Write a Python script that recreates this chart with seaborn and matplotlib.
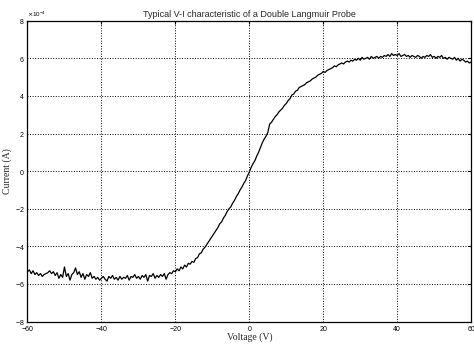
import numpy as np
import pandas as pd
import matplotlib
matplotlib.use("Agg")
import matplotlib.pyplot as plt
import seaborn as sns
from matplotlib.ticker import ScalarFormatter

# Voltage sweep (V), step 0.5 V
voltage = [v / 2 for v in range(-120, 121)]

# Current, in units of 1e-4 A
current_e4 = [
    -5.35, -5.25, -5.45, -5.30, -5.50, -5.40, -5.55, -5.45, -5.60, -5.50,
    -5.45, -5.40, -5.30, -5.45, -5.35, -5.55, -5.40, -5.70, -5.50, -5.65,
    -5.10, -5.60, -5.45, -5.80, -5.50, -5.40, -5.15, -5.50, -5.35, -5.65,
    -5.45, -5.75, -5.50, -5.60, -5.40, -5.70, -5.60, -5.75, -5.65, -5.80,
    -5.70, -5.60, -5.75, -5.85, -5.60, -5.70, -5.55, -5.75, -5.65, -5.80,
    -5.60, -5.75, -5.65, -5.70, -5.55, -5.80, -5.60, -5.65, -5.50, -5.70,
    -5.60, -5.75, -5.55, -5.65, -5.50, -5.85, -5.55, -5.60, -5.45, -5.70,
    -5.55, -5.65, -5.50, -5.60, -5.45, -5.75, -5.50, -5.40, -5.45, -5.30,
    -5.35, -5.20, -5.30, -5.10, -5.20, -5.00, -5.10, -4.90, -4.95, -4.80,
    -4.85, -4.65, -4.60, -4.40, -4.35, -4.15, -4.05, -3.90, -3.75, -3.60,
    -3.45, -3.30, -3.15, -3.00, -2.80, -2.70, -2.50, -2.35, -2.15, -2.00,
    -1.90, -1.70, -1.55, -1.35, -1.20, -1.00, -0.85, -0.65, -0.50, -0.25,
    -0.05, 0.20, 0.40, 0.55, 0.80, 1.00, 1.25, 1.50, 1.70, 1.85,
    2.05, 2.50, 2.60, 2.75, 2.90, 3.00, 3.15, 3.25, 3.35, 3.50,
    3.60, 3.75, 3.85, 4.05, 4.10, 4.25, 4.30, 4.45, 4.50, 4.55,
    4.60, 4.70, 4.75, 4.80, 4.90, 4.95, 5.00, 5.10, 5.15, 5.20,
    5.30, 5.25, 5.35, 5.40, 5.45, 5.50, 5.60, 5.55, 5.65, 5.70,
    5.75, 5.70, 5.80, 5.85, 5.80, 5.90, 5.85, 5.95, 5.90, 6.00,
    5.90, 6.05, 5.95, 6.00, 6.05, 5.95, 6.10, 6.00, 6.05, 6.10,
    6.00, 6.10, 6.05, 6.15, 6.10, 6.20, 6.10, 6.25, 6.15, 6.20,
    6.15, 6.25, 6.10, 6.15, 6.20, 6.10, 6.15, 6.05, 6.15, 6.10,
    6.05, 6.15, 6.10, 6.00, 6.10, 6.05, 6.15, 6.10, 6.20, 6.05,
    6.10, 6.00, 6.10, 6.05, 6.15, 6.00, 6.05, 5.95, 6.05, 6.00,
    5.95, 6.05, 5.90, 6.00, 5.85, 5.95, 5.90, 5.80, 5.85, 5.75,
    5.80,
]

x_ticks = [-60, -40, -20, 0, 20, 40, 60]
y_ticks_e4 = [-8, -6, -4, -2, 0, 2, 4, 6, 8]

df = pd.DataFrame({"Voltage": voltage, "Current": [c * 1e-4 for c in current_e4]})

sns.set_style("white")
plt.rcParams["font.family"] = ["Liberation Sans", "DejaVu Sans"]

fig = plt.figure(figsize=(4.74, 3.45), dpi=100)
ax = fig.add_axes([0.058, 0.068, 0.936, 0.872])

sns.lineplot(data=df, x="Voltage", y="Current", ax=ax, color="black",
             linewidth=0.9, estimator=None, sort=False)

ax.set_xlim(-60, 60)
ax.set_ylim(-8e-4, 8e-4)
ax.set_xticks(x_ticks)
ax.set_yticks([t * 1e-4 for t in y_ticks_e4])
fmt = ScalarFormatter(useMathText=True)
fmt.set_powerlimits((-3, 3))
ax.yaxis.set_major_formatter(fmt)
ax.yaxis.get_offset_text().set_fontsize(4.5)
ax.yaxis.get_offset_text().set_x(0.0)

ax.grid(True, linestyle=":", color="black", linewidth=0.7)
for s in ax.spines.values():
    s.set_color("black")
    s.set_linewidth(0.9)
ax.tick_params(axis="both", labelsize=5, length=2, direction="in",
               top=True, right=True, colors="black")
ax.tick_params(axis="x", pad=3)
ax.tick_params(axis="y", pad=2)

ax.set_title("Typical V-I characteristic of a Double Langmuir Probe",
             fontsize=6.5, pad=3)
ax.set_xlabel("Voltage (V)", fontsize=7, family=["Liberation Serif"], labelpad=0)
ax.set_ylabel("Current (A)", fontsize=7, family=["Liberation Serif"], labelpad=2)

fig.savefig("out.png", dpi=100, facecolor="white")
